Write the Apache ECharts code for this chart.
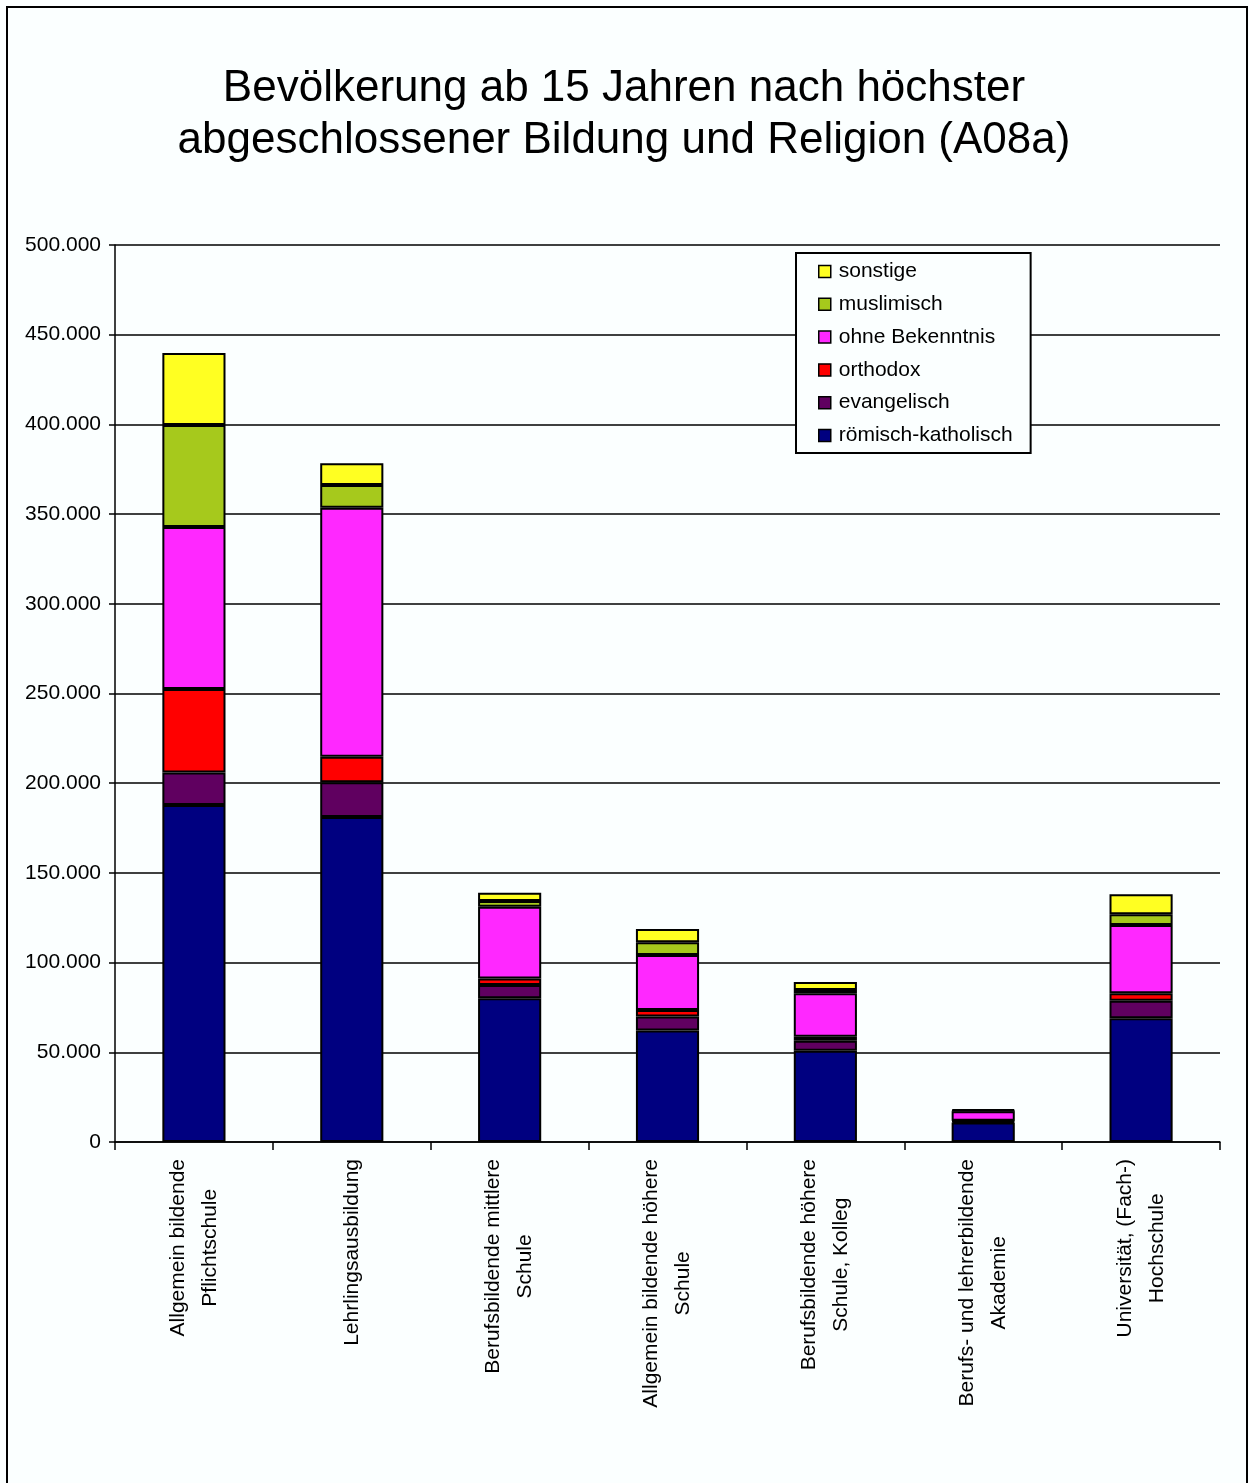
<!DOCTYPE html>
<html>
<head>
<meta charset="utf-8">
<script src="https://cdn.jsdelivr.net/npm/echarts@6/dist/echarts.min.js"></script>
<style>
html,body{margin:0;padding:0;background:#fbffff;}
#chart{width:1249px;height:1483px;position:absolute;left:0;top:0;}
#frame{position:absolute;left:6px;top:6px;width:1238px;height:1500px;border:2px solid #000;pointer-events:none;}
</style>
</head>
<body>
<div id="chart"></div>
<div id="frame"></div>
<script>
const categories = [
  "Allgemein bildende\nPflichtschule",
  "Lehrlingsausbildung",
  "Berufsbildende mittlere\nSchule",
  "Allgemein bildende höhere\nSchule",
  "Berufsbildende höhere\nSchule, Kolleg",
  "Berufs- und lehrerbildende\nAkademie",
  "Universität, (Fach-)\nHochschule"
];
const seriesNames = ["römisch-katholisch","evangelisch","orthodox","ohne Bekenntnis","muslimisch","sonstige"];
const roemischKatholisch = [187800, 181200, 80100, 62100, 50900, 10800, 69000];
const evangelisch        = [ 18100,  19300,  7400,  7800,  5600,   700,  9800];
const orthodox           = [ 46600,  14300,  3700,  3700,  2200,   400,  4100];
const ohneBekenntnis     = [ 90300, 138800, 40000, 30600, 24200,  5300, 38100];
const muslimisch         = [ 56900,  12600,  3100,  7100,  1800,   300,  5900];
const sonstige           = [ 40100,  12100,  4700,  7400,  4500,   700, 11200];
const colors = ["#000080","#600060","#FF0000","#FF28FF","#A6C91C","#FFFF22"];
const yTicks = [0,50000,100000,150000,200000,250000,300000,350000,400000,450000,500000];

const allData = [roemischKatholisch, evangelisch, orthodox, ohneBekenntnis, muslimisch, sonstige];
const FONT = "Arial, 'Liberation Sans', sans-serif";

function fmt(v){
  return String(v).replace(/\B(?=(\d{3})+(?!\d))/g, ".");
}

const chart = echarts.init(document.getElementById('chart'));
chart.setOption({
  backgroundColor: '#fbffff',
  animation: false,
  title: {
    text: "Bevölkerung ab 15 Jahren nach höchster\nabgeschlossener Bildung und Religion (A08a)",
    left: 619, top: 58, textAlign: 'center',
    textStyle: {fontFamily: FONT, fontSize: 44, fontWeight: 'normal', color: '#000', lineHeight: 52}
  },
  legend: {
    orient: 'vertical',
    left: 796, top: 253,
    padding: [8, 18, 7, 22],
    itemWidth: 12, itemHeight: 12, itemGap: 11.8,
    icon: 'rect',
    borderColor: '#000', borderWidth: 2,
    backgroundColor: '#fbffff',
    data: seriesNames.slice().reverse(),
    itemStyle: {borderColor: '#000', borderWidth: 1.5},
    textStyle: {fontFamily: FONT, fontSize: 21, color: '#000', lineHeight: 20, padding: [0,0,0,3]}
  },
  grid: {left: 115, right: 29, top: 245, bottom: 341, containLabel: false},
  xAxis: {
    type: 'category',
    data: categories,
    axisLine: {lineStyle: {color: '#000', width: 1.5}},
    axisTick: {show: true, length: 8, lineStyle: {color: '#000', width: 1.5}},
    axisLabel: {
      rotate: 90, margin: 17, interval: 0,
      formatter: function(v){ return v.split('\n').map(s => '{c|' + s + '}').join('\n'); },
      rich: {c: {align: 'center', fontFamily: FONT, fontSize: 21, color: '#000', lineHeight: 32}},
      fontFamily: FONT, fontSize: 21, color: '#000', lineHeight: 32
    }
  },
  yAxis: {
    type: 'value', min: 0, max: 500000, interval: 50000,
    axisLine: {show: true, lineStyle: {color: '#000', width: 1.5}},
    axisTick: {show: true, length: 6, inside: false, lineStyle: {color: '#000', width: 1.5}},
    axisLabel: {margin: 14, fontFamily: FONT, fontSize: 21, color: '#000',
      formatter: function(v){ return yTicks.indexOf(v) >= 0 ? fmt(v) : ''; }},
    splitLine: {show: true, lineStyle: {color: '#000', width: 1.5}}
  },
  series: seriesNames.map((n, i) => ({
    name: n,
    type: 'bar',
    stack: 'total',
    barWidth: '40%',
    data: allData[i],
    itemStyle: {color: colors[i], borderColor: '#000', borderWidth: 2}
  }))
});
</script>
</body>
</html>
